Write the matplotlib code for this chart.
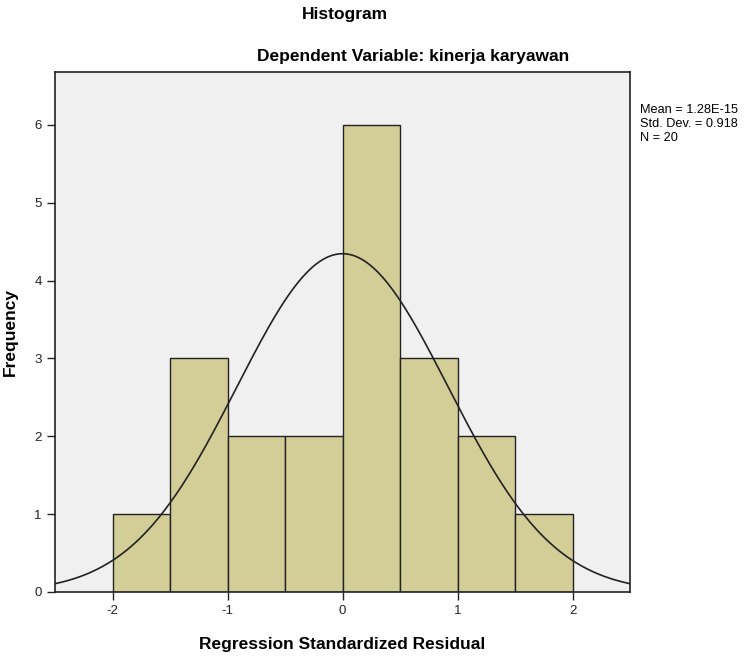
import numpy as np
import matplotlib
matplotlib.use("Agg")
import matplotlib.pyplot as plt

plt.rcParams['font.family'] = ['Liberation Sans', 'DejaVu Sans']
plt.rcParams['axes.unicode_minus'] = False

bin_edges = [-2.0, -1.5, -1.0, -0.5, 0.0, 0.5, 1.0, 1.5, 2.0]
counts = [1, 3, 2, 2, 6, 3, 2, 1]
mean = 1.28e-15
std = 0.918
n = 20

fig = plt.figure(figsize=(7.55, 6.56), dpi=100)
ax = fig.add_axes([55/755, 64/656, 575/755, 520/656])
ax.set_facecolor('#f0f0f0')

lefts = bin_edges[:-1]
widths = np.diff(bin_edges)
ax.bar(lefts, counts, width=widths, align='edge', color='#d3ce97',
       edgecolor='#222222', linewidth=1.0, zorder=2)

xs = np.linspace(-2.5, 2.5, 400)
bw = bin_edges[1] - bin_edges[0]
ys = n * bw / (std * np.sqrt(2 * np.pi)) * np.exp(-0.5 * ((xs - mean) / std) ** 2)
ax.plot(xs, ys, color='#222222', linewidth=1.2, zorder=3)

ax.set_xlim(-2.5, 2.5)
ax.set_ylim(0, 6.68)
ax.set_xticks([-2, -1, 0, 1, 2])
ax.set_yticks([0, 1, 2, 3, 4, 5, 6])
ax.tick_params(axis='both', labelsize=9.5, direction='out', length=6, width=1, colors='#222222')
for s in ax.spines.values():
    s.set_color('#222222')
    s.set_linewidth(1.2)

ax.set_xlabel('Regression Standardized Residual', fontsize=12.5, fontweight='bold', labelpad=14)
ax.set_ylabel('Frequency', fontsize=12.5, fontweight='bold', labelpad=12)

fig.text(345/755, 1 - 15/656, 'Histogram', ha='center', va='center', fontsize=12.5, fontweight='bold')
fig.text(413/755, 1 - 56/656, 'Dependent Variable: kinerja karyawan', ha='center', va='center',
         fontsize=12.5, fontweight='bold')

fig.text(640/755, 1 - 104/656, 'Mean = 1.28E-15\nStd. Dev. = 0.918\nN = 20',
         ha='left', va='top', fontsize=9.2, linespacing=1.2)

fig.savefig('out.png', dpi=100)
